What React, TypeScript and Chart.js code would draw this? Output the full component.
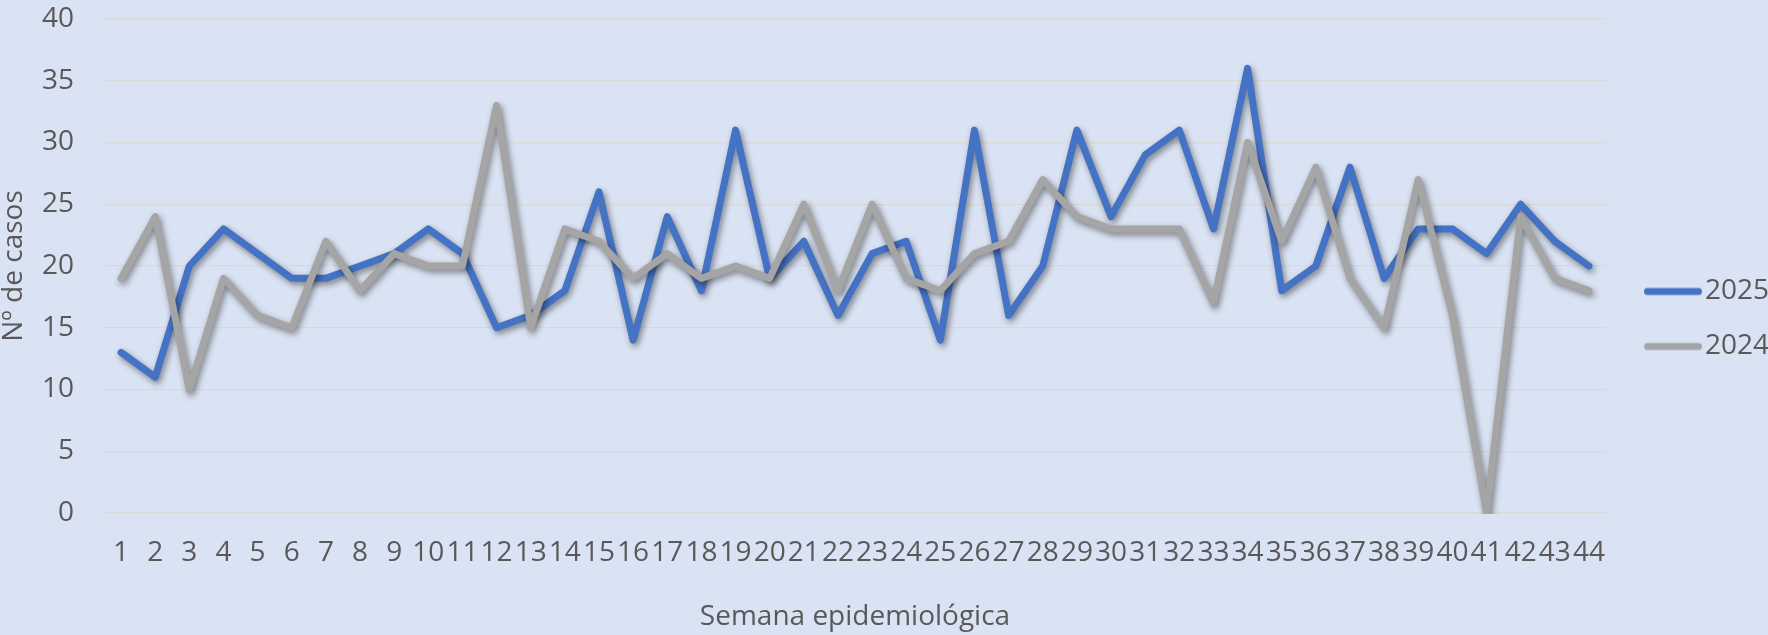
import React, { useEffect, useRef } from 'react';
import { Chart, registerables } from 'chart.js';

Chart.register(...registerables);

// ---- Data ----
const weeks = [
  '1', '2', '3', '4', '5', '6', '7', '8', '9', '10', '11', '12', '13', '14', '15',
  '16', '17', '18', '19', '20', '21', '22', '23', '24', '25', '26', '27', '28', '29', '30',
  '31', '32', '33', '34', '35', '36', '37', '38', '39', '40', '41', '42', '43', '44',
];

const cases2025 = [
  13, 11, 20, 23, 21, 19, 19, 20, 21, 23, 21, 15, 16, 18, 26,
  14, 24, 18, 31, 19, 22, 16, 21, 22, 14, 31, 16, 20, 31, 24,
  29, 31, 23, 36, 18, 20, 28, 19, 23, 23, 21, 25, 22, 20,
];

const cases2024 = [
  19, 24, 10, 19, 16, 15, 22, 18, 21, 20, 20, 33, 15, 23, 22,
  19, 21, 19, 20, 19, 25, 18, 25, 19, 18, 21, 22, 27, 24, 23,
  23, 23, 17, 30, 22, 28, 19, 15, 27, 16, 0, 24, 19, 18,
];

const seriesNames = ['2025', '2024'];
const yMin = 0;
const yMax = 40;
const yStep = 5;

const xTitle = 'Semana epidemiológica';
const yTitle = 'Nº de casos';

// ---- Styles ----
const FONT = "'Open Sans', 'Noto Sans', sans-serif";
const TEXT = '#595959';
const BLUE = '#4472C4';
const GRAY = '#A5A5A5';
const BG = '#DAE3F3';
const GRID = '#D9D9D9';

function makeLegendLine(color: string): HTMLCanvasElement {
  const c = document.createElement('canvas');
  c.width = 80;
  c.height = 12;
  const g = c.getContext('2d') as CanvasRenderingContext2D;
  g.strokeStyle = color;
  g.lineWidth = 7;
  g.lineCap = 'round';
  g.beginPath();
  g.moveTo(25.5, 6);
  g.lineTo(76.5, 6);
  g.stroke();
  return c;
}

const bgPlugin = {
  id: 'bgFill',
  beforeDraw(chart: any) {
    const ctx = chart.ctx;
    ctx.save();
    ctx.fillStyle = BG;
    ctx.fillRect(0, 0, chart.width, chart.height);
    ctx.restore();
  },
};

const shadowPlugin = {
  id: 'lineShadow',
  beforeDatasetDraw(chart: any) {
    const ctx = chart.ctx;
    ctx.save();
    ctx.shadowColor = 'rgba(0,0,0,0.45)';
    ctx.shadowBlur = 6;
    ctx.shadowOffsetX = 2;
    ctx.shadowOffsetY = 3;
  },
  afterDatasetDraw(chart: any) {
    chart.ctx.restore();
  },
};

export default function App() {
  const canvasRef = useRef<HTMLCanvasElement | null>(null);

  useEffect(() => {
    let chart: Chart | null = null;
    let cancelled = false;

    const build = () => {
      if (cancelled || !canvasRef.current) return;
      Chart.defaults.font.family = FONT;
      Chart.defaults.color = TEXT;

      chart = new Chart(canvasRef.current, {
        type: 'line',
        data: {
          labels: weeks,
          datasets: [
            {
              label: seriesNames[1],
              data: cases2024,
              borderColor: GRAY,
              backgroundColor: GRAY,
              borderWidth: 7,
              borderCapStyle: 'round',
              borderJoinStyle: 'round',
              pointRadius: 0,
              pointHoverRadius: 0,
              pointStyle: makeLegendLine(GRAY) as any,
              tension: 0,
              fill: false,
              clip: { left: 10, top: 10, right: 10, bottom: 1 } as any,
            },
            {
              label: seriesNames[0],
              data: cases2025,
              borderColor: BLUE,
              backgroundColor: BLUE,
              borderWidth: 7,
              borderCapStyle: 'round',
              borderJoinStyle: 'round',
              pointRadius: 0,
              pointHoverRadius: 0,
              pointStyle: makeLegendLine(BLUE) as any,
              tension: 0,
              fill: false,
              clip: { left: 10, top: 10, right: 10, bottom: 1 } as any,
            },
          ],
        },
        options: {
          responsive: false,
          maintainAspectRatio: false,
          animation: false,
          devicePixelRatio: 1,
          layout: { padding: { top: 3, left: 0, right: 0, bottom: 0 } },
          events: [],
          plugins: {
            legend: {
              position: 'right',
              reverse: true,
              maxWidth: 162,
              labels: {
                usePointStyle: true,
                pointStyleWidth: 58,
                padding: 27,
                color: TEXT,
                font: { size: 28, family: FONT },
              },
            },
            tooltip: { enabled: false },
          },
          scales: {
            x: {
              offset: true,
              grid: { display: false, drawTicks: false },
              border: { display: false },
              ticks: {
                autoSkip: false,
                maxRotation: 0,
                minRotation: 0,
                padding: 23,
                color: TEXT,
                font: { size: 28, family: FONT },
              },
              title: {
                display: true,
                text: xTitle,
                color: TEXT,
                font: { size: 28, family: FONT, lineHeight: 1 },
                padding: { top: 0, bottom: 4 },
              },
              afterFit: (s: any) => {
                s.height = 122;
              },
            },
            y: {
              min: yMin,
              max: yMax,
              ticks: {
                stepSize: yStep,
                padding: 0,
                color: TEXT,
                font: { size: 28, family: FONT, lineHeight: 38 / 28 },
              },
              grid: {
                color: GRID,
                lineWidth: 1.3,
                drawTicks: true,
                tickLength: 30,
                tickColor: 'rgba(0,0,0,0)',
              },
              border: { display: false },
              title: {
                display: true,
                text: yTitle,
                color: TEXT,
                font: { size: 28, family: FONT, lineHeight: 1 },
                padding: { top: 0, bottom: 0 },
              },
              afterFit: (s: any) => {
                s.width = 104;
              },
            },
          },
        },
        plugins: [bgPlugin, shadowPlugin],
      } as any);
    };

    const fonts: any = (document as any).fonts;
    if (fonts && fonts.load) {
      fonts.load("28px 'Open Sans'").then(build, build);
    } else {
      build();
    }

    return () => {
      cancelled = true;
      if (chart) chart.destroy();
    };
  }, []);

  return (
    <div style={{ position: 'absolute', left: 0, top: 0, width: 1768, height: 635 }}>
      <canvas ref={canvasRef} width={1768} height={635} style={{ display: 'block', width: 1768, height: 635 }} />
    </div>
  );
}
